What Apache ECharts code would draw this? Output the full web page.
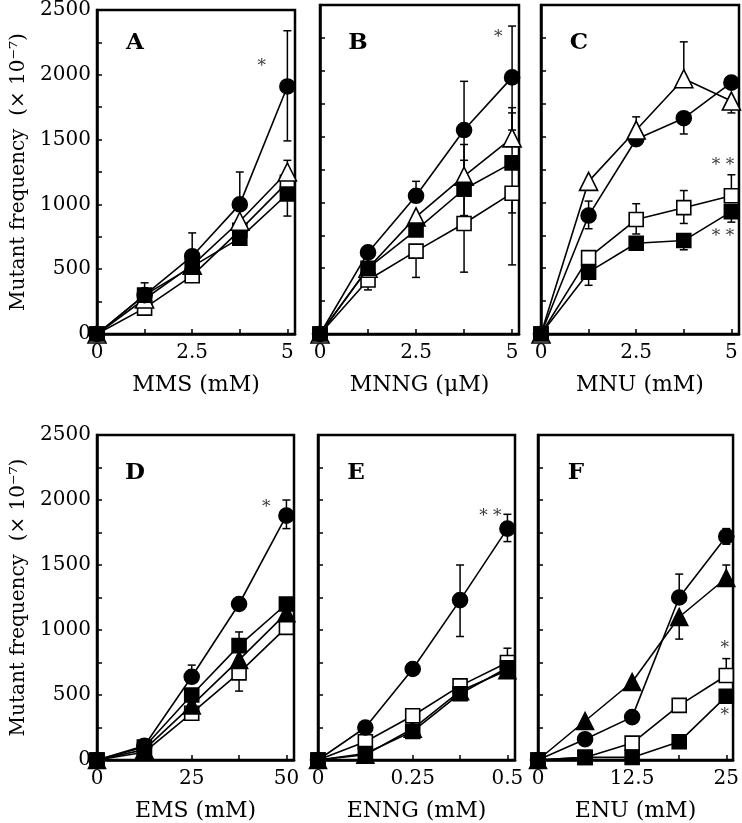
<!DOCTYPE html>
<html><head><meta charset="utf-8">
<script src="https://cdn.jsdelivr.net/npm/echarts@6/dist/echarts.min.js"></script>
<style>html,body{margin:0;padding:0;background:#fff}#c{width:742px;height:823px}</style>
</head><body><div id="c"></div>
<script>
// ---- categories / x values ----
const xMM = [0, 1.25, 2.5, 3.75, 5];       // MMS, MNNG, MNU
const xEMS = [0, 12.5, 25, 37.5, 50];
const xENNG = [0, 0.125, 0.25, 0.375, 0.5];
const xENU = [0, 6.25, 12.5, 18.75, 25];

// ---- tick labels ----
const yLabelVals = [0, 500, 1000, 1500, 2000, 2500];
const xLabA = [0, 2.5, 5];
const xLabD = [0, 25, 50];
const xLabE = [0, 0.25, 0.5];
const xLabF = [0, 12.5, 25];
const axisNames = ['MMS (mM)', 'MNNG (\u03bcM)', 'MNU (mM)', 'EMS (mM)', 'ENNG (mM)', 'ENU (mM)'];
const panelLetters = ['A', 'B', 'C', 'D', 'E', 'F'];
const yName = 'Mutant frequency  (\u00d7 10\u207b\u2077)';

// ---- Panel A (MMS) ----
const A_fCircle = [0, 300, 600, 1000, 1910];
const A_oTri    = [0, 270, 530, 870, 1250];
const A_oSq     = [0, 200, 450, 800, 1170];
const A_fSq     = [0, 300, 520, 740, 1080];
const A_err = [[1.25, 300, 395], [2.5, 600, 780], [3.75, 1000, 1250], [5, 1490, 2340], [5, 1250, 1340], [5, 910, 1080]];
const A_note = [[4.33, 2060, '*']];

// ---- Panel B (MNNG) ----
const B_fCircle = [0, 620, 1050, 1550, 1950];
const B_oTri    = [0, 500, 890, 1200, 1490];
const B_fSq     = [0, 500, 790, 1100, 1300];
const B_oSq     = [0, 410, 630, 840, 1070];
const B_err = [[2.5, 1050, 1160], [3.75, 470, 1920], [5, 1550, 2340], [1.25, 335, 410], [2.5, 430, 630], [5, 525, 1070],
               [3.75, 1200, 1440], [3.75, 900, 1320], [5, 1490, 1720], [5, 920, 1680]];
const B_note = [[4.64, 2250, '*']];

// ---- Panel C (MNU) ----
const C_oTri    = [0, 1160, 1550, 1940, 1770];
const C_fCircle = [0, 900, 1480, 1640, 1910];
const C_oSq     = [0, 580, 870, 960, 1050];
const C_fSq     = [0, 470, 690, 710, 930];
const C_err = [[3.75, 1940, 2220], [5, 1680, 1770], [2.5, 1550, 1650], [1.25, 800, 1010], [3.75, 1520, 1640],
               [2.5, 760, 990], [3.75, 840, 1090], [5, 1050, 1210], [1.25, 370, 470], [3.75, 640, 710], [5, 850, 930]];
const C_note = [[4.78, 1280, '**'], [4.78, 740, '**']];

// ---- Panel D (EMS) ----
const D_fCircle = [0, 110, 640, 1200, 1880];
const D_fSq     = [0, 100, 500, 880, 1200];
const D_fTri    = [0, 80, 420, 770, 1130];
const D_oSq     = [0, 60, 360, 670, 1020];
const D_err = [[25, 640, 730], [50, 1780, 2000], [37.5, 880, 985], [37.5, 530, 670], [50, 1150, 1240]];
const D_note = [[44.7, 1945, '*']];

// ---- Panel E (ENNG) ----
const E_fCircle = [0, 250, 700, 1230, 1780];
const E_oSq     = [0, 140, 340, 570, 750];
const E_fSq     = [0, 50, 220, 510, 710];
const E_fTri    = [0, 40, 240, 530, 690];
const E_err = [[0.375, 950, 1500], [0.5, 1680, 1890], [0.5, 750, 860], [0.5, 630, 690]];
const E_note = [[0.455, 1875, '**']];

// ---- Panel F (ENU) ----
const F_fCircle = [0, 160, 330, 1250, 1720];
const F_fTri    = [0, 300, 600, 1100, 1400];
const F_oSq     = [0, 20, 130, 420, 650];
const F_fSq     = [0, 20, 20, 140, 490];
const F_err = [[18.75, 1250, 1430], [25, 1660, 1780], [18.75, 930, 1100], [25, 1340, 1500], [25, 650, 780]];
const F_note = [[24.8, 855, '*'], [24.8, 345, '*']];

const FONT = 'DejaVu Serif';
const grids = [
  {left: 97, top: 5, width: 198, height: 329},
  {left: 320, top: 5, width: 199, height: 329},
  {left: 541, top: 5, width: 199, height: 329},
  {left: 97, top: 435, width: 197, height: 328},
  {left: 318, top: 435, width: 197, height: 328},
  {left: 538, top: 435, width: 198, height: 328}
];
const xCfg = [
  {max: 5.2, interval: 1.25, labels: xLabA},
  {max: 5.18, interval: 1.25, labels: xLabA},
  {max: 5.2, interval: 1.25, labels: xLabA},
  {max: 52, interval: 12.5, labels: xLabD},
  {max: 0.52, interval: 0.125, labels: xLabE},
  {max: 25.9, interval: 6.25, labels: xLabF}
];
const has = (arr, v) => arr.some(a => Math.abs(a - v) < 1e-9);

const option = {
  animation: false,
  backgroundColor: '#fff',
  grid: grids.map(g => Object.assign({show: true, borderColor: '#000', borderWidth: 2.5, backgroundColor: 'transparent'}, g)),
  xAxis: xCfg.map((c, i) => ({
    gridIndex: i, type: 'value', min: 0, max: c.max, interval: c.interval,
    axisLine: {show: true, onZero: false, lineStyle: {color: '#000', width: 2.5}},
    axisTick: {show: true, inside: true, length: 5, lineStyle: {color: '#000', width: 1.5}},
    splitLine: {show: false},
    axisLabel: {color: '#000', fontFamily: FONT, fontSize: 20, margin: 9, showMaxLabel: true,
      formatter: v => has(c.labels, v) ? String(v) : ''},
    name: axisNames[i], nameLocation: 'middle', nameGap: 40,
    nameTextStyle: {color: '#000', fontFamily: FONT, fontSize: 22}
  })),
  yAxis: grids.map((g, i) => ({
    gridIndex: i, type: 'value', min: 0, max: 2500, interval: 250,
    axisLine: {show: true, onZero: false, lineStyle: {color: '#000', width: 2.5}},
    axisTick: {show: true, inside: true, length: 5, lineStyle: {color: '#000', width: 1.5}},
    splitLine: {show: false},
    axisLabel: {show: (i === 0 || i === 3), color: '#000', fontFamily: FONT, fontSize: 20, margin: 6,
      formatter: v => has(yLabelVals, v) ? String(v) : ''},
    name: (i === 0 || i === 3) ? yName : '', nameLocation: 'middle', nameGap: 68, nameRotate: 90,
    nameTextStyle: {color: '#000', fontFamily: FONT, fontSize: 20}
  })),
  graphic: panelLetters.map((t, i) => ({
    type: 'text', x: grids[i].left + 38, y: grids[i].top + 38, z: 100,
    style: {text: t, font: 'bold 23px "DejaVu Serif"', fill: '#000', textAlign: 'center', textVerticalAlign: 'middle'}
  })),
  series: []
};

const styles = {
  fCircle: {symbol: 'circle', symbolSize: 15, fill: '#000'},
  oTri: {symbol: 'triangle', symbolSize: 18, fill: '#fff'},
  fTri: {symbol: 'triangle', symbolSize: 17, fill: '#000'},
  oSq: {symbol: 'rect', symbolSize: 14, fill: '#fff'},
  fSq: {symbol: 'rect', symbolSize: 14, fill: '#000'}
};
function line(gi, xs, ys, kind, z) {
  const s = styles[kind];
  option.series.push({
    type: 'line', xAxisIndex: gi, yAxisIndex: gi, z: z,
    data: xs.map((x, k) => [x, ys[k]]),
    symbol: s.symbol, symbolSize: s.symbolSize, showSymbol: true,
    lineStyle: {color: '#000', width: 1.6},
    itemStyle: {color: s.fill, borderColor: '#000', borderWidth: 1.6}
  });
}
function errs(gi, data) {
  option.series.push({
    type: 'custom', xAxisIndex: gi, yAxisIndex: gi, z: 1,
    dimensions: ['x', 'lo', 'hi'], encode: {x: 0, y: [1, 2]},
    data: data,
    renderItem: (params, api) => {
      const x = api.value(0);
      const p1 = api.coord([x, api.value(1)]), p2 = api.coord([x, api.value(2)]);
      const w = 4, st = {stroke: '#000', lineWidth: 1.5};
      return {type: 'group', children: [
        {type: 'line', shape: {x1: p1[0], y1: p1[1], x2: p2[0], y2: p2[1]}, style: st},
        {type: 'line', shape: {x1: p1[0] - w, y1: p1[1], x2: p1[0] + w, y2: p1[1]}, style: st},
        {type: 'line', shape: {x1: p2[0] - w, y1: p2[1], x2: p2[0] + w, y2: p2[1]}, style: st}
      ]};
    }
  });
}
function notes(gi, data) {
  option.series.push({
    type: 'scatter', xAxisIndex: gi, yAxisIndex: gi, z: 20, symbolSize: 1,
    itemStyle: {color: 'transparent'},
    data: data.map(d => ({value: [d[0], d[1]], name: d[2]})),
    label: {show: true, position: 'inside', formatter: p => p.name.split('').join(' '),
      fontFamily: FONT, fontSize: 17, color: '#000'}
  });
}

// Panel A
errs(0, A_err);
line(0, xMM, A_oSq, 'oSq', 3); line(0, xMM, A_oTri, 'oTri', 4); line(0, xMM, A_fCircle, 'fCircle', 5); line(0, xMM, A_fSq, 'fSq', 6);
notes(0, A_note);
// Panel B
errs(1, B_err);
line(1, xMM, B_oSq, 'oSq', 3); line(1, xMM, B_oTri, 'oTri', 4); line(1, xMM, B_fCircle, 'fCircle', 5); line(1, xMM, B_fSq, 'fSq', 6);
notes(1, B_note);
// Panel C
errs(2, C_err);
line(2, xMM, C_oSq, 'oSq', 3); line(2, xMM, C_fCircle, 'fCircle', 4); line(2, xMM, C_oTri, 'oTri', 5); line(2, xMM, C_fSq, 'fSq', 6);
notes(2, C_note);
// Panel D
errs(3, D_err);
line(3, xEMS, D_oSq, 'oSq', 3); line(3, xEMS, D_fTri, 'fTri', 4); line(3, xEMS, D_fCircle, 'fCircle', 5); line(3, xEMS, D_fSq, 'fSq', 6);
notes(3, D_note);
// Panel E
errs(4, E_err);
line(4, xENNG, E_fTri, 'fTri', 3); line(4, xENNG, E_oSq, 'oSq', 4); line(4, xENNG, E_fCircle, 'fCircle', 5); line(4, xENNG, E_fSq, 'fSq', 6);
notes(4, E_note);
// Panel F
errs(5, F_err);
line(5, xENU, F_oSq, 'oSq', 3); line(5, xENU, F_fTri, 'fTri', 4); line(5, xENU, F_fCircle, 'fCircle', 5); line(5, xENU, F_fSq, 'fSq', 6);
notes(5, F_note);

const chart = echarts.init(document.getElementById('c'), null, {renderer: 'canvas'});
chart.setOption(option);
</script></body></html>
